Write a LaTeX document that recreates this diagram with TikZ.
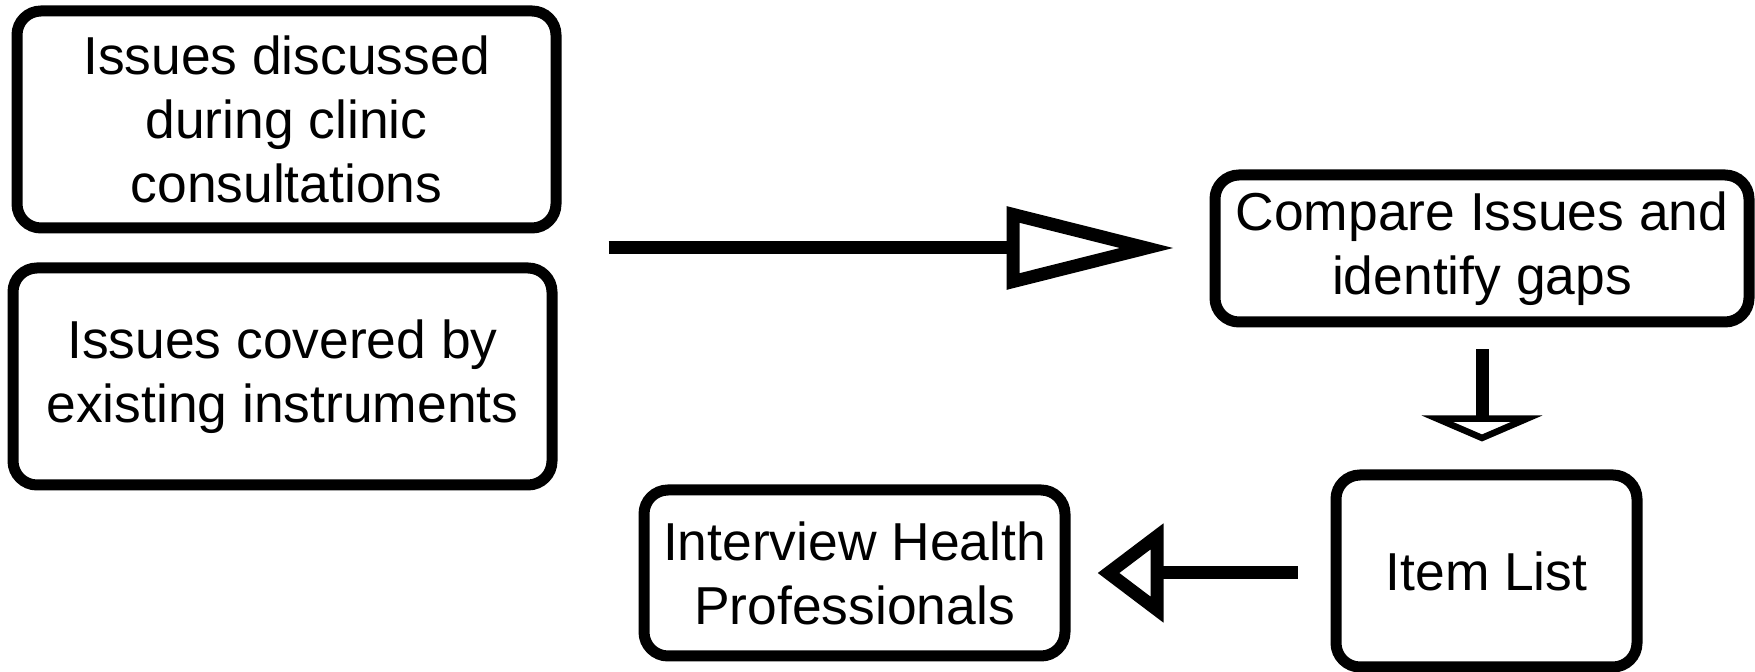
\documentclass[tikz,border=0pt]{standalone}
\usepackage{fontspec}
\setmainfont{Liberation Sans}
\usetikzlibrary{arrows.meta, positioning, calc}

\begin{document}
\begin{tikzpicture}[x=0.5pt, y=-0.5pt,
  stepbox/.style={draw, line width=5.5pt, rounded corners=12pt, align=center, inner sep=0pt, font=\fontsize{26.7}{32}\selectfont},
  flow/.style={line width=6.5pt}]
  \useasboundingbox (0,0) rectangle (1755,672);

  \node[stepbox, minimum width=269.5pt, minimum height=108.5pt] (disc) at (286.5,119.5) {Issues discussed\\during clinic\\consultations};
  \node[stepbox, minimum width=269.5pt, minimum height=108.5pt] (cov) at (282.5,376.5) {Issues covered by\\existing instruments};
  \node[stepbox, minimum width=267pt, minimum height=73.5pt] (cmp) at (1482,248.5) {Compare Issues and\\identify gaps};
  \node[stepbox, minimum width=150.5pt, minimum height=96pt] (item) at (1486.5,571) {Item List};
  \node[stepbox, minimum width=210.5pt, minimum height=83pt] (iv) at (854.5,573) {Interview Health\\Professionals};

  % both sources feed the comparison
  \coordinate (src) at ($(disc.south east)!0.5!(cov.north east)$);
  \draw[flow, shorten >=17.5pt, -{Triangle[open, length=84pt, width=40pt]}] ([xshift=24.5pt]src) -- (cmp.west |- src);
  \draw[flow, shorten <=11pt, shorten >=14pt, -{Triangle[open, length=13pt, width=60pt]}] (cmp.south) -- (cmp.south |- item.north);
  \draw[flow, shorten <=16.5pt, shorten >=13.5pt, -{Triangle[open, length=33pt, width=48pt]}] (item.west |- iv.east) -- (iv.east);
\end{tikzpicture}
\end{document}
